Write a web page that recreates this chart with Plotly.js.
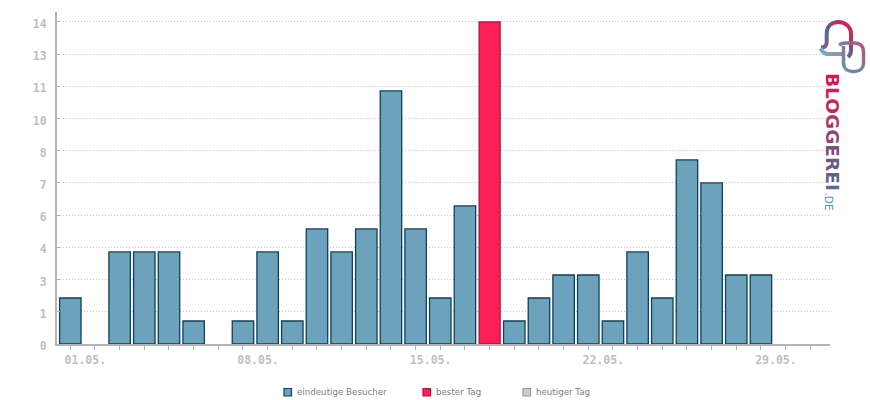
<!DOCTYPE html>
<html>
<head>
<meta charset="utf-8">
<script src="https://cdn.plot.ly/plotly-3.0.1.min.js"></script>
<style>html,body{margin:0;padding:0;background:#fff}#chart{width:870px;height:400px}</style>
</head>
<body>
<div id="chart"></div>
<script>
const days = [1,2,3,4,5,6,7,8,9,10,11,12,13,14,15,16,17,18,19,20,21,22,23,24,25,26,27,28,29,30,31];
const dayLabels = ['01.05.','','','','','','','08.05.','','','','','','','15.05.','','','','','','','22.05.','','','','','','','29.05.','',''];
const visitors = [2,0,4,4,4,1,0,1,4,1,5,4,5,11,5,2,6,0,1,2,3,3,1,4,2,8,7,3,3,0,0];
const bestDay = [0,0,0,0,0,0,0,0,0,0,0,0,0,0,0,0,0,14,0,0,0,0,0,0,0,0,0,0,0,0,0];
const today = [0,0,0,0,0,0,0,0,0,0,0,0,0,0,0,0,0,0,0,0,0,0,0,0,0,0,0,0,0,0,0];
const yTicks = [0,1.4,2.8,4.2,5.6,7,8.4,9.8,11.2,12.6,14];
const yLabels = ['0','1','3','4','6','7','8','10','11','13','14'];
const seriesNames = ['eindeutige Besucher','bester Tag','heutiger Tag'];
const seriesFill = ['#6ca2bb','#ff1f57','#cccccc'];
const seriesEdge = ['#0f4158','#b0103f','#999999'];
const brand = 'BLOGGEREI';
const brandColors = ['#d3174f','#cb2051','#c12a58','#a83c68','#8f4670','#7a5078','#6a5a84','#5c648c','#566c92'];

const gray = '#b4b4b4', tickFont = {family:'"DejaVu Sans Mono", monospace', size:11.5, weight:700, color:'#bfbfbf'};
const W = 870, H = 400, L = 57, R = 40, T = 12, B = 56;
const px = v => (v - L) / (W - L - R), py = v => 1 - (v - T) / (H - T - B);

const logo = `<svg xmlns="http://www.w3.org/2000/svg" viewBox="0 0 55 62" width="220" height="248">
<defs>
<linearGradient id="a" x1="0" y1="1" x2="1" y2="0"><stop offset="0" stop-color="#b04a78"/><stop offset=".45" stop-color="#4f7290"/><stop offset=".72" stop-color="#a03a68"/><stop offset="1" stop-color="#f2164f"/></linearGradient>
<linearGradient id="b" x1="0" y1="0" x2="1" y2="0"><stop offset="0" stop-color="#6fb0c4"/><stop offset="1" stop-color="#a8879e"/></linearGradient>
<linearGradient id="c" x1="0" y1="1" x2="1" y2="0"><stop offset="0" stop-color="#5f94ae"/><stop offset=".5" stop-color="#7e7f9c"/><stop offset="1" stop-color="#b84f7c"/></linearGradient>
</defs>
<path d="M6 32.500C9 32.500 11.700 31 11.700 27V19C11.700 11 17 7 23.500 7C30.500 7 36 12 36 19V35C36 38 35 40.500 33 42" fill="none" stroke="url(#a)" stroke-width="4"/>
<path d="M5.500 33.500C7 36.500 9.500 39 13 39H29" fill="none" stroke="url(#b)" stroke-width="4"/>
<path d="M24 30C26 28.500 28 28 31 28H40C45 28 48.500 31.500 48.500 36V48C48.500 53 45 56.500 40 56.500H37C32 56.500 28.500 53 28.500 48V31" fill="none" stroke="url(#c)" stroke-width="3.500"/>
</svg>`;

const barTrace = (i, ys, w) => ({
  type:'bar', name:seriesNames[i], x:days, y:ys, width:w, showlegend:false,
  marker:{color:seriesFill[i], line:{color:seriesEdge[i], width:ys.map(v => v > 0 ? 1.3 : 0)}}
});
const data = [barTrace(0, visitors, 0.87), barTrace(1, bestDay, 0.85), barTrace(2, today, 0.87)];

const legendSwatchLeft = [284, 423, 523];
const legendShapes = legendSwatchLeft.map((x,i) => ({
  type:'rect', xref:'paper', yref:'paper', x0:px(x), x1:px(x+7.500), y0:py(396), y1:py(388.500),
  fillcolor:seriesFill[i], line:{color:seriesEdge[i], width:1.200}
}));
const legendTexts = legendSwatchLeft.map((x,i) => ({
  text:seriesNames[i], xref:'paper', yref:'paper', x:px(x+11.500), y:py(392), xanchor:'left', yanchor:'middle',
  showarrow:false, borderpad:0, font:{family:'"DejaVu Sans", sans-serif', size:8.700, color:'#808080'}
}));

const layout = {
  width:W, height:H, margin:{l:L, r:R, t:T, b:B, pad:0},
  paper_bgcolor:'#fff', plot_bgcolor:'#fff', barmode:'overlay', hovermode:false,
  font:{family:'"DejaVu Sans", sans-serif'},
  xaxis:{type:'linear', range:[0.46,31.80], tickmode:'array', tickvals:days, ticktext:dayLabels,
    ticks:'outside', ticklen:4, tickwidth:1, tickcolor:gray, tickangle:0,
    showgrid:false, zeroline:false, showline:true, linecolor:gray, linewidth:2,
    tickfont:tickFont, ticklabelshift:15, automargin:false},
  yaxis:{range:[0,14.43], tickmode:'array', tickvals:yTicks, ticktext:yLabels,
    ticks:'inside', ticklen:3, tickwidth:1, tickcolor:gray,
    showgrid:true, gridcolor:'#c4c4c4', gridwidth:1, griddash:'1px,2px', zeroline:false,
    showline:true, linecolor:gray, linewidth:2, tickfont:tickFont,
    ticklabelstandoff:6, ticklabelshift:2, automargin:false},
  showlegend:false,
  shapes:legendShapes,
  images:[{source:'data:image/svg+xml;utf8,'+encodeURIComponent(logo), xref:'paper', yref:'paper',
    x:px(815), y:py(15), sizex:55/(W-L-R), sizey:62/(H-T-B), xanchor:'left', yanchor:'top', sizing:'stretch', layer:'above'}],
  annotations:legendTexts.concat([
    {text:brand.split('').map((c,i)=>`<span style="color:${brandColors[i]}">${c}</span>`).join(''),
     xref:'paper', yref:'paper', x:px(833), y:py(132), xanchor:'center', yanchor:'middle', textangle:90, showarrow:false,
     font:{family:'"DejaVu Sans", sans-serif', size:18.500, weight:700}},
    {text:'.DE', xref:'paper', yref:'paper', x:px(829), y:py(201.500), xanchor:'center', yanchor:'middle', textangle:90, showarrow:false,
     font:{family:'"DejaVu Sans", sans-serif', size:10.500, color:'#4f8fb0'}}
  ])
};
Plotly.newPlot('chart', data, layout, {displayModeBar:false, staticPlot:true});
</script>
</body>
</html>
